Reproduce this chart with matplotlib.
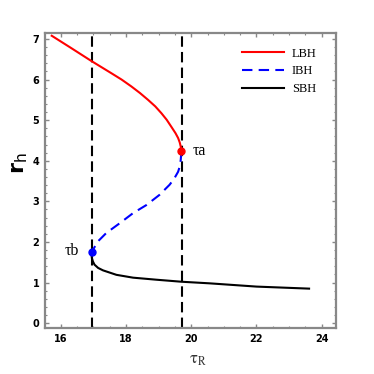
import matplotlib
matplotlib.use("Agg")
import matplotlib.pyplot as plt
from matplotlib.ticker import MultipleLocator

plt.rcParams["mathtext.fontset"] = "stix"

# Data
lbh_tau = [15.73, 16.30, 16.94, 17.55, 17.87, 18.17, 18.43, 18.68, 18.90, 19.09, 19.25, 19.39, 19.52, 19.60, 19.65, 19.68, 19.70]
lbh_r   = [7.08, 6.79, 6.46, 6.16, 6.00, 5.83, 5.67, 5.50, 5.34, 5.17, 5.01, 4.84, 4.68, 4.56, 4.45, 4.35, 4.23]

ibh_tau = [19.70, 19.68, 19.65, 19.60, 19.48, 19.34, 19.03, 18.63, 18.22, 17.81, 17.40, 17.14, 16.96]
ibh_r   = [4.23, 4.02, 3.86, 3.73, 3.56, 3.41, 3.16, 2.91, 2.71, 2.46, 2.22, 2.01, 1.76]

sbh_tau = [16.96, 16.95, 16.96, 16.99, 17.04, 17.15, 17.30, 17.71, 18.22, 18.93, 19.70, 20.57, 22.00, 23.61]
sbh_r   = [1.76, 1.68, 1.60, 1.52, 1.44, 1.36, 1.30, 1.19, 1.12, 1.07, 1.02, 0.98, 0.90, 0.85]

tau_a = (19.70, 4.23)
tau_b = (16.96, 1.76)
vlines_x = [16.96, 19.71]

fig = plt.figure(figsize=(3.74, 3.74), dpi=100)
ax = fig.add_axes([0.120, 0.123, 0.778, 0.789])

for xv in vlines_x:
    ax.axvline(xv, color="black", lw=1.5, dashes=(5, 2.5))

ax.plot(lbh_tau, lbh_r, color="red", lw=1.5, label="LBH")
ax.plot(ibh_tau, ibh_r, color="blue", lw=1.5, dashes=(5, 3), label="IBH")
ax.plot(sbh_tau, sbh_r, color="black", lw=1.5, label="SBH")

ax.plot(*tau_a, "o", color="red", ms=5, zorder=5)
ax.plot(*tau_b, "o", color="blue", ms=5, zorder=5)
ax.text(tau_a[0] + 0.33, tau_a[1], "τa", family="Liberation Serif",
        fontsize=11.5, va="center", ha="left")
ax.text(tau_b[0] - 0.4, tau_b[1] + 0.02, "τb", family="Liberation Serif",
        fontsize=11.5, va="center", ha="right")

ax.set_xlim(15.52, 24.43)
ax.set_ylim(-0.12, 7.15)
ax.xaxis.set_major_locator(MultipleLocator(2))
ax.xaxis.set_minor_locator(MultipleLocator(0.5))
ax.yaxis.set_major_locator(MultipleLocator(1))
ax.yaxis.set_minor_locator(MultipleLocator(0.2))
ax.tick_params(which="both", direction="in", top=True, right=True, color="#888888")
ax.tick_params(which="major", length=3, width=1)
ax.tick_params(which="minor", length=1.5, width=0.8)
ax.tick_params(axis="both", labelsize=7, pad=4)
for lab in ax.get_xticklabels() + ax.get_yticklabels():
    lab.set_fontweight("bold")
for sp in ax.spines.values():
    sp.set_color("#888888")
    sp.set_linewidth(1.6)

ax.set_xlabel(r"$\mathrm{\tau}_{\mathrm{R}}$", fontsize=12, color="#333333")
ax.xaxis.set_label_coords(0.525, -0.075)
ax.set_ylabel(r"$\mathbf{r}_{\mathrm{h}}$", fontsize=16, math_fontfamily="dejavusans")
ax.yaxis.set_label_coords(-0.05, 0.56)

leg = ax.legend(loc="upper left", frameon=False,
                prop={"family": "Liberation Serif", "size": 9},
                handlelength=3.4, borderaxespad=0, borderpad=0,
                bbox_to_anchor=(0.677, 0.950),
                labelspacing=0.45, handletextpad=0.6)

fig.savefig("out.png", dpi=100)
